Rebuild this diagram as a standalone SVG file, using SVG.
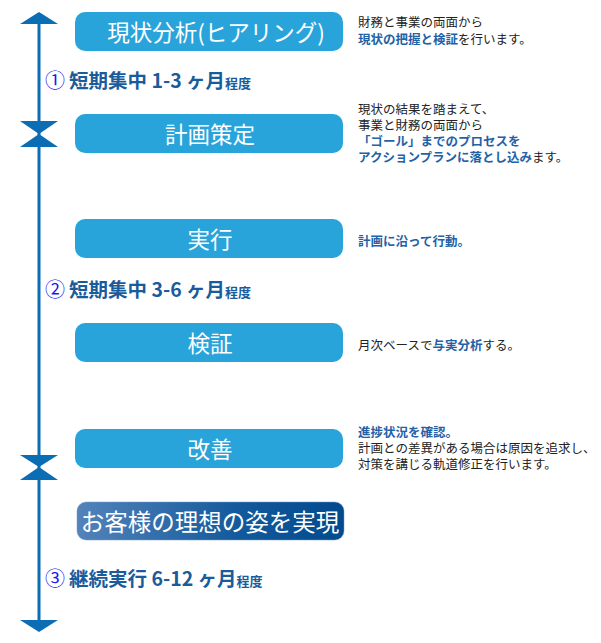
<svg xmlns="http://www.w3.org/2000/svg" width="601" height="643" viewBox="0 0 601 643">
<style>
  .box { fill: #29a4db; }
  .boxtxt { fill: #ffffff; font-family: "Noto Sans CJK JP", "Noto Sans", sans-serif; font-size: 22.5px; font-weight: normal; text-anchor: middle; }
  .lbl { fill: #1a5b9c; font-family: "Noto Sans CJK JP", "Noto Sans", sans-serif; font-size: 19.5px; font-weight: bold; }
  .num { fill: #1a1aee; font-family: "Noto Sans CJK JP", "Noto Sans", sans-serif; font-size: 20px; }
  .small { font-size: 13px; }
  .desc { fill: #222222; font-family: "Noto Sans CJK JP", "Noto Sans", sans-serif; font-size: 12.5px; }
  .hl { fill: #1f62a6; font-weight: bold; }
  .axis { stroke: #0b6db3; stroke-width: 3; fill: none; }
  .tri { fill: #0b6db3; }
</style>
<defs>
  <linearGradient id="goal" x1="0" y1="0" x2="1" y2="0">
    <stop offset="0" stop-color="#5383ba"/>
    <stop offset="0.6" stop-color="#135a9c"/>
    <stop offset="1" stop-color="#004a8e"/>
  </linearGradient>
</defs>

<g id="connectors">
  <line class="axis" x1="39" y1="22" x2="39" y2="622"/>
  <polygon class="tri" points="20,24 39,12 58,24"/>
  <polygon class="tri" points="20,121 58,121 39,134"/>
  <polygon class="tri" points="20,147 58,147 39,134"/>
  <polygon class="tri" points="20,455 58,455 39,467"/>
  <polygon class="tri" points="20,480 58,480 39,467"/>
  <polygon class="tri" points="20,620 58,620 39,632"/>
</g>

<g id="node-genjou">
  <rect class="box" x="75" y="12" width="268" height="39" rx="10"/>
  <text class="boxtxt" x="216" y="41">現状分析(ヒアリング)</text>
</g>
<g id="node-keikaku">
  <rect class="box" x="75" y="114" width="268" height="39" rx="10"/>
  <text class="boxtxt" x="210" y="143">計画策定</text>
</g>
<g id="node-jikkou">
  <rect class="box" x="75" y="219" width="268" height="39" rx="10"/>
  <text class="boxtxt" x="210" y="248">実行</text>
</g>
<g id="node-kenshou">
  <rect class="box" x="75" y="323" width="268" height="39" rx="10"/>
  <text class="boxtxt" x="210" y="352">検証</text>
</g>
<g id="node-kaizen">
  <rect class="box" x="75" y="429" width="268" height="39" rx="10"/>
  <text class="boxtxt" x="210" y="458">改善</text>
</g>
<g id="node-goal">
  <rect x="77" y="502" width="267" height="38" rx="9" fill="url(#goal)" stroke="#7a9dc8" stroke-opacity="0.5" stroke-width="1"/>
  <text class="boxtxt" x="210" y="531" style="font-size:23.5px">お客様の理想の姿を実現</text>
</g>

<g id="label-1">
  <text class="num" x="45" y="88">①</text>
  <text class="lbl" x="69" y="88">短期集中 1-3 ヶ月<tspan class="small">程度</tspan></text>
</g>
<g id="label-2">
  <text class="num" x="45" y="297">②</text>
  <text class="lbl" x="69" y="297">短期集中 3-6 ヶ月<tspan class="small">程度</tspan></text>
</g>
<g id="label-3">
  <text class="num" x="45" y="586">③</text>
  <text class="lbl" x="69" y="586">継続実行 6-12 ヶ月<tspan class="small">程度</tspan></text>
</g>

<g id="desc-1">
  <text class="desc" x="358" y="27">財務と事業の両面から</text>
  <text class="desc" x="358" y="44"><tspan class="hl">現状の把握と検証</tspan>を行います。</text>
</g>
<g id="desc-2">
  <text class="desc" x="358" y="114">現状の結果を踏まえて、</text>
  <text class="desc" x="358" y="130">事業と財務の両面から</text>
  <text class="desc" x="358" y="146"><tspan class="hl">「ゴール」までのプロセスを</tspan></text>
  <text class="desc" x="358" y="162"><tspan class="hl">アクションプランに落とし込み</tspan>ます。</text>
</g>
<g id="desc-3">
  <text class="desc" x="358" y="246"><tspan class="hl">計画に沿って行動。</tspan></text>
</g>
<g id="desc-4">
  <text class="desc" x="358" y="350">月次ベースで<tspan class="hl">与実分析</tspan>する。</text>
</g>
<g id="desc-5">
  <text class="desc" x="358" y="437"><tspan class="hl">進捗状況を確認。</tspan></text>
  <text class="desc" x="358" y="453">計画との差異がある場合は原因を追求し、</text>
  <text class="desc" x="358" y="469">対策を講じる軌道修正を行います。</text>
</g>
</svg>
